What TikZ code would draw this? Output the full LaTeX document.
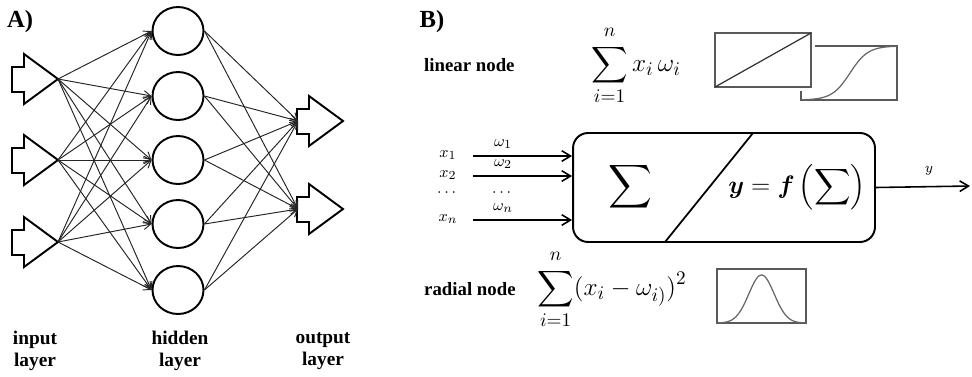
\documentclass[tikz,border=0pt]{standalone}
\usepackage[no-math]{fontspec}
\setmainfont{Liberation Serif}
\usepackage{amsmath}
\usetikzlibrary{shapes.geometric,arrows.meta,positioning}

\newcommand{\limn}{\raisebox{2pt}{$\scriptstyle n$}}

\tikzset{
  enlace/.style={-{Straight Barb[length=4pt,width=4.5pt]}, draw=black!85, line width=0.55pt},
  flecha/.style={-{Straight Barb[length=5pt,width=6pt]}, line width=0.9pt},
  neurona/.style={ellipse, draw, line width=1.1pt, minimum width=1.02cm, minimum height=0.96cm, inner sep=0pt},
  etiqueta/.style={font=\fontsize{11}{12.5}\selectfont\bfseries, align=center},
  titulo/.style={font=\fontsize{14}{16}\selectfont\bfseries},
  cuadro/.style={draw=black!65, line width=0.9pt},
  peq/.style={font=\fontsize{9.5}{11}\selectfont, inner sep=0.5pt},
  plug/.pic={\draw[line width=1.1pt] (-34,-25) -- (-34,-12) -- (-46,-12) -- (-46,13)
             -- (-34,13) -- (-34,25) -- (0,0) -- cycle;}
}

\begin{document}
\begin{tikzpicture}[x=0.02cm, y=-0.02cm]
  \useasboundingbox (0,0) rectangle (972,376);

  % Parte A: red
  \node[titulo] (letA) at (20,22) {A)};

  % Capa de entrada
  \foreach \i/\y in {1/79,2/160,3/242} {
    \coordinate (in\i) at (58,\y);
    \pic at (in\i) {plug};
  }
  % Capa oculta
  \foreach \j/\y in {1/31,2/96,3/160,4/224,5/290}
    \node[neurona] (h\j) at (178,\y) {};
  % Capa de salida
  \foreach \k/\y in {1/121,2/209} {
    \coordinate (out\k) at (298,\y);
    \pic at (343,\y) {plug};
  }

  % Conexiones
  \foreach \i in {1,2,3}
    \foreach \j in {1,...,5}
      \draw[enlace] (in\i) -- (h\j.west);
  \foreach \j in {1,...,5}
    \foreach \k in {1,2}
      \draw[enlace] (h\j.east) -- (out\k);

  % Nombres de las capas
  \node[etiqueta] (lin) at (35,351) {input\\layer};
  \node[etiqueta] (loc) at (180,351) {hidden\\layer};
  \node[etiqueta] (lout) at (323,351) {output\\layer};

  % Parte B: neurona
  \node[titulo] (letB) at (432,22) {B)};
  \node[font=\fontsize{10.7}{12}\selectfont\bfseries, anchor=west] (nlin) at (418,65) {linear node};
  \node[font=\fontsize{10.7}{12}\selectfont\bfseries, anchor=west] (nrad) at (418,289) {radial node};
  \node[font=\fontsize{15}{18}\selectfont, inner sep=0pt] (flin) at (636,65) {$\displaystyle\sum_{i=1}^{\limn} x_i\,\omega_i$};
  \node[font=\fontsize{15}{18}\selectfont, inner sep=0pt] (frad) at (612,289) {$\displaystyle\sum_{i=1}^{\limn}(x_i-\omega_{i)})^2$};

  % Funciones de activacion
  \draw[cuadro] (801,46) rectangle (897,100);
  \draw[domain=801:897, samples=60, smooth, variable=\x, black!60, line width=0.7pt]
    plot ({\x}, {100-54/(1+exp(-(\x-850)/9))});
  \fill[white] (711,29) rectangle (815,91);
  \draw[cuadro] (715,33) rectangle (811,87);
  \draw[black!80, line width=0.7pt] (715,87) -- (811,33);

  \draw[cuadro] (717,269) rectangle (806,323);
  \draw[domain=717:806, samples=80, smooth, variable=\x, black!60, line width=0.7pt]
    plot ({\x}, {323-48*exp(-(\x-761.5)*(\x-761.5)/322)});

  % Unidad
  \node[draw, rounded corners=0.3cm, line width=1.1pt, minimum width=6.04cm, minimum height=2.18cm] (unidad) at (724,187.5) {};
  \draw[line width=1pt] (665,242) -- (753,133);
  \node[font=\fontsize{19}{22}\selectfont] (suma) at (630,187) {$\displaystyle\sum$};
  \node[font=\fontsize{15.5}{18}\selectfont, inner sep=0pt] (fact) at (797,187) {$\boldsymbol{y}=\boldsymbol{f}\left(\displaystyle\sum\right)$};

  % Entradas y pesos
  \foreach \n/\y/\xl/\wl in {1/156/x_1/\omega_1, 2/176/x_2/\omega_2, n/220/x_n/\omega_n} {
    \node[peq] (x\n) at (448,\y-1) {$\xl$};
    \node[peq] (w\n) at (503,\y-12) {$\wl$};
    \coordinate (e\n) at (473,\y);
    \draw[flecha] (e\n) -- (e\n -| unidad.west);
  }
  \node[peq] (xd) at (448,193) {$\cdots$};
  \node[peq] (wd) at (503,193) {$\cdots$};

  % Salida
  \coordinate (ysal) at (970,186);
  \draw[flecha] (unidad.east) -- (ysal);
  \node[font=\fontsize{8.5}{10}\selectfont] (ylab) at (929,171) {$y$};
\end{tikzpicture}
\end{document}
